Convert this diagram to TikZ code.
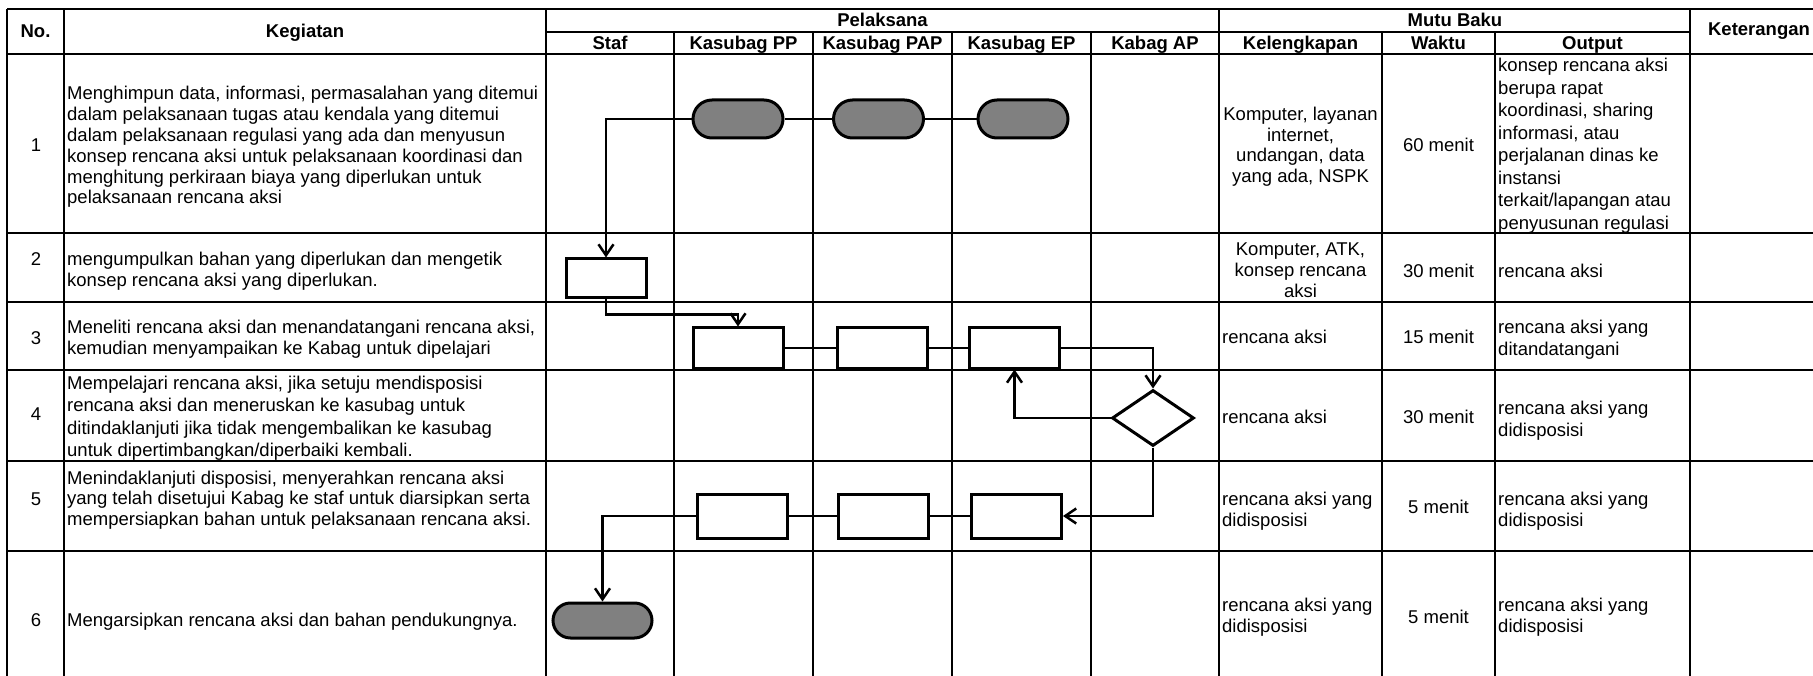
\documentclass[tikz,border=0pt]{standalone}
\usepackage{fontspec}
\setmainfont{Liberation Sans}
\usetikzlibrary{arrows.meta,shapes.geometric,shapes.misc}
\newcommand\cellL[5]{\foreach \mytext [count=\myi] in {#5} {\node[tx,anchor=base west] (#1-\myi) at (#2,{#3+(\myi-1)*#4}) {\mytext};}}
\newcommand\cellC[5]{\foreach \mytext [count=\myi] in {#5} {\node[tx,anchor=base] (#1-\myi) at (#2,{#3+(\myi-1)*#4}) {\mytext};}}
\begin{document}
\begin{tikzpicture}[x=1pt,y=-1pt,
 tline/.style={line width=2pt},
 conn/.style={line width=2.5pt},
 arr/.style={conn,-{Straight Barb[length=11pt,width=15pt]}},
 hd/.style={font=\bfseries\fontsize{18.5}{20}\selectfont,inner sep=0pt},
 tx/.style={font=\fontsize{18.5}{20}\selectfont,inner sep=0pt},
 term/.style={rounded rectangle,draw,fill=gray,line width=3pt,inner sep=0pt,minimum width=90pt,minimum height=38pt},
 pbox/.style={rectangle,draw,fill=white,line width=3pt,inner sep=0pt,minimum width=90pt,minimum height=40pt},
 dec/.style={diamond,draw,fill=white,line width=3pt,inner sep=0pt,minimum width=82pt,minimum height=56pt}]
\useasboundingbox (0,0) rectangle (1813,676);

% ---- table grid
\foreach \yy in {9,54,233,302,370,461,551} \draw[tline] (7,\yy) -- (1813,\yy);
\draw[tline] (546,32) -- (1690,32);
\foreach \xx in {7,64,546,1219,1690} \draw[tline] (\xx,9) -- (\xx,676);
\foreach \xx in {674,813,952,1091,1382,1495} \draw[tline] (\xx,32) -- (\xx,676);

% ---- header
\node[hd,anchor=base] (hNo) at (35.5,38) {No.};
\node[hd,anchor=base] (hKeg) at (305,38) {Kegiatan};
\node[hd,anchor=base] (hPel) at (882.5,27) {Pelaksana};
\node[hd,anchor=base] (hStaf) at (610,49.5) {Staf};
\node[hd,anchor=base] (hPP) at (743.5,49.5) {Kasubag PP};
\node[hd,anchor=base] (hPAP) at (882.5,49.5) {Kasubag PAP};
\node[hd,anchor=base] (hEP) at (1021.5,49.5) {Kasubag EP};
\node[hd,anchor=base] (hAP) at (1155,49.5) {Kabag AP};
\node[hd,anchor=base] (hMutu) at (1455,27) {Mutu Baku};
\node[hd,anchor=base] (hKel) at (1300.5,49.5) {Kelengkapan};
\node[hd,anchor=base] (hWak) at (1438.5,49.5) {Waktu};
\node[hd,anchor=base] (hOut) at (1592.5,49.5) {Output};
\node[hd,anchor=base] (hKet) at (1759,36) {Keterangan};

% ---- numbers
\node[tx,anchor=base] (n1) at (36,151.5) {1};
\node[tx,anchor=base] (n2) at (36,266) {2};
\node[tx,anchor=base] (n3) at (36,344.5) {3};
\node[tx,anchor=base] (n4) at (36,420.5) {4};
\node[tx,anchor=base] (n5) at (36,505.5) {5};
\node[tx,anchor=base] (n6) at (36,626.5) {6};

% ---- kegiatan
\cellL{k1}{67}{100}{20.8}{{Menghimpun data, informasi, permasalahan yang ditemui},{dalam pelaksanaan tugas atau kendala yang ditemui},{dalam pelaksanaan regulasi yang ada dan menyusun},{konsep rencana aksi untuk pelaksanaan koordinasi dan},{menghitung perkiraan biaya yang diperlukan untuk},{pelaksanaan rencana aksi}}
\cellL{k2}{67}{266}{20.5}{{mengumpulkan bahan yang diperlukan dan mengetik},{konsep rencana aksi yang diperlukan.}}
\cellL{k3}{67}{334}{20.5}{{Meneliti rencana aksi dan menandatangani rencana aksi,},{kemudian menyampaikan ke Kabag untuk dipelajari}}
\begin{scope}
\clip (64,371) rectangle (546,460);
\cellL{k4}{67}{389.5}{22.3}{{Mempelajari rencana aksi, jika setuju mendisposisi},{rencana aksi dan meneruskan ke kasubag untuk},{ditindaklanjuti jika tidak mengembalikan ke kasubag},{untuk dipertimbangkan/diperbaiki kembali.}}
\end{scope}
\cellL{k5}{67}{484}{20.75}{{Menindaklanjuti disposisi, menyerahkan rencana aksi},{yang telah disetujui Kabag ke staf untuk diarsipkan serta},{mempersiapkan bahan untuk pelaksanaan rencana aksi.}}
\cellL{k6}{67}{626}{20.5}{{Mengarsipkan rencana aksi dan bahan pendukungnya.}}

% ---- kelengkapan
\cellC{l1}{1300.5}{121}{20.5}{{Komputer, layanan},{internet,},{undangan, data},{yang ada, NSPK}}
\cellC{l2}{1300.5}{256}{20.8}{{Komputer, ATK,},{konsep rencana},{aksi}}
\cellL{l3}{1222}{343.5}{20.5}{{rencana aksi}}
\cellL{l4}{1222}{423}{20.5}{{rencana aksi}}
\cellL{l5}{1222}{505}{21}{{rencana aksi yang},{didisposisi}}
\cellL{l6}{1222}{611}{21}{{rencana aksi yang},{didisposisi}}

% ---- waktu
\node[tx,anchor=base] (w1) at (1438.5,152) {60 menit};
\node[tx,anchor=base] (w2) at (1438.5,277.5) {30 menit};
\node[tx,anchor=base] (w3) at (1438.5,344) {15 menit};
\node[tx,anchor=base] (w4) at (1438.5,423) {30 menit};
\node[tx,anchor=base] (w5) at (1438.5,513) {5 menit};
\node[tx,anchor=base] (w6) at (1438.5,623) {5 menit};

% ---- output
\begin{scope}
\clip (1495,55) rectangle (1690,232);
\cellL{o1}{1498}{72}{22.5}{{konsep rencana aksi},{berupa rapat},{koordinasi, sharing},{informasi, atau},{perjalanan dinas ke},{instansi},{terkait/lapangan atau},{penyusunan regulasi}}
\end{scope}
\cellL{o2}{1498}{277.5}{20.5}{{rencana aksi}}
\cellL{o3}{1498}{334}{21.5}{{rencana aksi yang},{ditandatangani}}
\cellL{o4}{1498}{414}{22}{{rencana aksi yang},{didisposisi}}
\cellL{o5}{1498}{505}{21}{{rencana aksi yang},{didisposisi}}
\cellL{o6}{1498}{611}{21}{{rencana aksi yang},{didisposisi}}

% ---- flow shapes
\node[term] (T1) at (738,119) {};
\node[term] (T2) at (878.5,119) {};
\node[term] (T3) at (1023,119) {};
\node[pbox,minimum width=80pt,minimum height=39pt] (B2) at (606,278.5) {};
\node[pbox] (B3a) at (738,348) {};
\node[pbox] (B3b) at (882,348) {};
\node[pbox] (B3c) at (1014.5,348) {};
\node[dec] (D) at (1153,418) {};
\node[pbox,minimum height=44pt] (B5a) at (742.5,516) {};
\node[pbox,minimum height=44pt] (B5b) at (883.5,516) {};
\node[pbox,minimum height=44pt] (B5c) at (1016.5,516) {};
\node[term,minimum width=99pt,minimum height=35pt] (T6) at (602.5,620.5) {};

% ---- connectors
\draw[conn] (T1.east) -- (T2.west);
\draw[conn] (T2.east) -- (T3.west);
\draw[arr] (T1.west) -| (B2.north);
\draw[arr] (B2.south) -- ++(0,15) -| (B3a.north);
\draw[conn] (B3a.east) -- (B3b.west);
\draw[conn] (B3b.east) -- (B3c.west);
\draw[arr] (B3c.east) -| (D.north);
\draw[arr] (D.west) -| (B3c.south);
\draw[arr] (D.south) |- (B5c.east);
\draw[conn] (B5c.west) -- (B5b.east);
\draw[conn] (B5b.west) -- (B5a.east);
\draw[arr] (B5a.west) -| (T6.north);
\end{tikzpicture}
\end{document}
